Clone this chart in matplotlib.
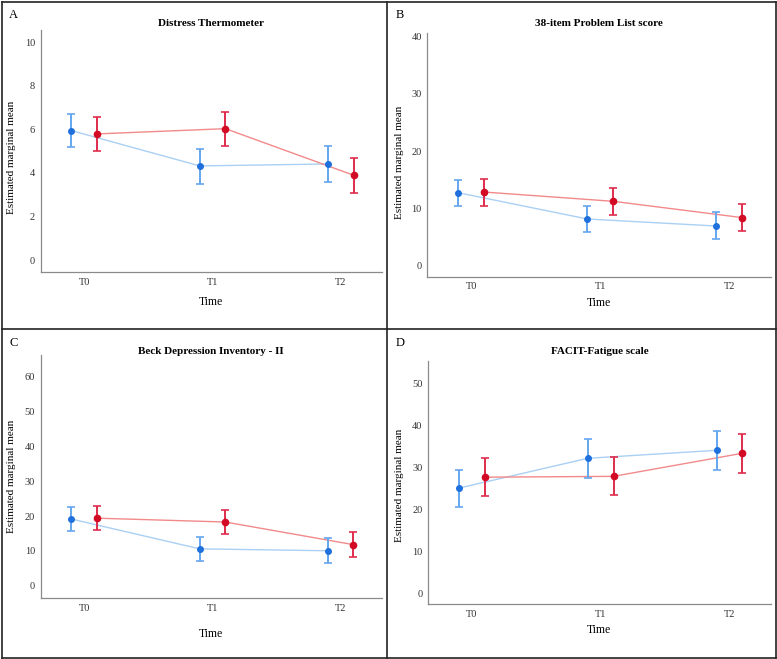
import numpy as np
import matplotlib
matplotlib.use('Agg')
import matplotlib.pyplot as plt
from matplotlib.lines import Line2D

plt.rcParams['font.family'] = ['Liberation Serif', 'DejaVu Serif']

times = ['T0', 'T1', 'T2']

# panel A - Distress Thermometer
dt_blue = [5.94, 4.32, 4.41]
dt_blue_lo = [5.18, 3.50, 3.58]
dt_blue_hi = [6.71, 5.10, 5.24]
dt_red = [5.79, 6.03, 3.89]
dt_red_lo = [5.00, 5.25, 3.08]
dt_red_hi = [6.55, 6.81, 4.70]

# panel B - 38-item Problem List score
pl_blue = [12.75, 8.16, 6.93]
pl_blue_lo = [10.4, 5.83, 4.6]
pl_blue_hi = [14.9, 10.5, 9.3]
pl_red = [12.87, 11.25, 8.4]
pl_red_lo = [10.5, 8.9, 6.06]
pl_red_hi = [15.1, 13.5, 10.7]

# panel C - Beck Depression Inventory - II
bdi_blue = [19.15, 10.6, 10.05]
bdi_blue_lo = [15.7, 7.0, 6.4]
bdi_blue_hi = [22.5, 14.1, 13.6]
bdi_red = [19.4, 18.3, 11.8]
bdi_red_lo = [16.0, 14.75, 8.2]
bdi_red_hi = [23.0, 21.8, 15.4]

# panel D - FACIT-Fatigue scale
fa_blue = [25.0, 32.1, 34.0]
fa_blue_lo = [20.4, 27.5, 29.3]
fa_blue_hi = [29.4, 36.7, 38.6]
fa_red = [27.6, 27.8, 33.3]
fa_red_lo = [23.2, 23.3, 28.6]
fa_red_hi = [32.1, 32.3, 37.9]

W, H = 777, 659
fig = plt.figure(figsize=(W / 100, H / 100), dpi=100)

blue_pt = '#1f70dc'
blue_err = '#64a6ef'
blue_ln = '#aad0f3'
red_pt = '#d20a24'
red_err = '#df2c4c'
red_ln = '#f28a8a'


def px_axes(left, top, right, bottom):
    return fig.add_axes([left / W, 1 - bottom / H, (right - left) / W, (bottom - top) / H])


def panel(ax, title, blue, blo, bhi, red, rlo, rhi, ylim, yticks, box, letter, title_y, xlab_y, ylab):
    x = np.arange(len(times))
    off = 0.1
    blue = np.array(blue); red = np.array(red)
    ax.plot(x - off, blue, color=blue_ln, lw=1.0, zorder=1)
    ax.plot(x + off, red, color=red_ln, lw=1.0, zorder=1)
    ax.errorbar(x - off, blue, yerr=[blue - np.array(blo), np.array(bhi) - blue],
                fmt='none', ecolor=blue_err, elinewidth=1.4, capsize=2.6, capthick=1.2, zorder=2)
    ax.errorbar(x + off, red, yerr=[red - np.array(rlo), np.array(rhi) - red],
                fmt='none', ecolor=red_err, elinewidth=1.4, capsize=2.6, capthick=1.2, zorder=2)
    ax.plot(x - off, blue, 'o', color=blue_pt, ms=4, zorder=3)
    ax.plot(x + off, red, 'o', color=red_pt, ms=4.5, zorder=3)
    ax.set_xlim(-0.34, 2.32)
    ax.set_ylim(*ylim)
    ax.set_yticks(yticks)
    ax.set_xticks(x)
    ax.set_xticklabels(times)
    ax.tick_params(length=0, labelsize=7.5, colors='#333333', pad=4)
    for s in ['top', 'right']:
        ax.spines[s].set_visible(False)
    for s in ['left', 'bottom']:
        ax.spines[s].set_color('#8a8a8a')
        ax.spines[s].set_linewidth(0.9)
    l, t, r, b = box
    cx = (l + r) / 2
    fig.text(cx / W, 1 - title_y / H, title, ha='center', va='center', fontsize=8, fontweight='bold')
    fig.text(cx / W, 1 - xlab_y / H, 'Time', ha='center', va='center', fontsize=8.5)
    fig.text(letter[0] / W, 1 - letter[1] / H, letter[2], ha='left', va='center', fontsize=9)
    fig.text(ylab[0] / W, 1 - ylab[1] / H, 'Estimated marginal mean', rotation=90,
             ha='center', va='center', fontsize=8)


boxA = (40.7, 30, 382, 272)
axA = px_axes(*boxA)
panel(axA, 'Distress Thermometer', dt_blue, dt_blue_lo, dt_blue_hi, dt_red, dt_red_lo, dt_red_hi,
      (-0.55, 10.56), [0, 2, 4, 6, 8, 10], boxA, (9, 15, 'A'), 24, 302, (12, 157))

boxB = (427.3, 33.3, 770.7, 276.7)
axB = px_axes(*boxB)
panel(axB, '38-item Problem List score', pl_blue, pl_blue_lo, pl_blue_hi, pl_red, pl_red_lo, pl_red_hi,
      (-1.92, 40.6), [0, 10, 20, 30, 40], boxB, (396, 15, 'B'), 24, 303, (399, 162))

boxC = (40.7, 354.7, 381.7, 598)
axC = px_axes(*boxC)
panel(axC, 'Beck Depression Inventory - II', bdi_blue, bdi_blue_lo, bdi_blue_hi, bdi_red, bdi_red_lo, bdi_red_hi,
      (-3.5, 66.3), [0, 10, 20, 30, 40, 50, 60], boxC, (9, 343, 'C'), 351, 634, (12, 476))

boxD = (428, 361.3, 770.7, 604)
axD = px_axes(*boxD)
panel(axD, 'FACIT-Fatigue scale', fa_blue, fa_blue_lo, fa_blue_hi, fa_red, fa_red_lo, fa_red_hi,
      (-2.6, 55.2), [0, 10, 20, 30, 40, 50], boxD, (396, 343, 'D'), 351, 630, (399, 485))

# panel borders
def hline(y, x0, x1):
    fig.add_artist(Line2D([x0 / W, x1 / W], [1 - y / H, 1 - y / H], color='#222222', lw=1.2))


def vline(x, y0, y1):
    fig.add_artist(Line2D([x / W, x / W], [1 - y0 / H, 1 - y1 / H], color='#222222', lw=1.2))


hline(1.5, 1.5, 775.5)
hline(657.5, 1.5, 775.5)
hline(329.3, 1.5, 775.5)
vline(1.5, 1.5, 657.5)
vline(775.5, 1.5, 657.5)
vline(387.3, 1.5, 657.5)

fig.savefig('out.png', dpi=100)
